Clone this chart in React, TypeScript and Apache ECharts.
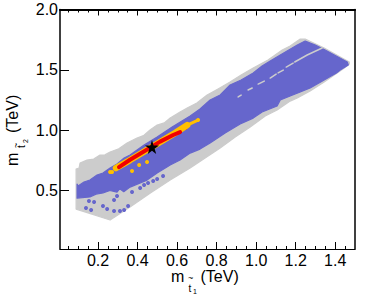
import React, { useEffect, useRef } from "react";
import * as echarts from "echarts";

const majorXTicks = [0.2, 0.4, 0.6, 0.8, 1.0, 1.2, 1.4];
const minorXTicks = [0.05, 0.1, 0.15, 0.25, 0.3, 0.35, 0.45, 0.5, 0.55, 0.65, 0.7, 0.75, 0.85, 0.9, 0.95, 1.05, 1.1, 1.15, 1.25, 1.3, 1.35, 1.45];
const majorYTicks = [0.5, 1.0, 1.5, 2.0];

const grayRegion = [
  [0.089, 0.678], [0.104, 0.686], [0.109, 0.727], [0.144, 0.752], [0.178, 0.76], [0.21, 0.794], [0.235, 0.795], [0.261, 0.819],
  [0.305, 0.845], [0.347, 0.893], [0.397, 0.935], [0.43, 0.955], [0.463, 1.001], [0.499, 1.042], [0.535, 1.06], [0.565, 1.1],
  [0.615, 1.15], [0.651, 1.183], [0.7, 1.225], [0.752, 1.291], [0.807, 1.341], [0.868, 1.399], [0.924, 1.457], [0.985, 1.515],
  [1.06, 1.581], [1.132, 1.664], [1.172, 1.697], [1.223, 1.755], [1.248, 1.755], [1.344, 1.681], [1.471, 1.565],
  [1.471, 1.548], [1.446, 1.515], [1.344, 1.399], [1.273, 1.324], [1.208, 1.266], [1.172, 1.241], [1.106, 1.167],
  [1.046, 1.117], [0.97, 1.026], [0.894, 0.943], [0.818, 0.852], [0.742, 0.769], [0.666, 0.686], [0.565, 0.586],
  [0.463, 0.478], [0.362, 0.363], [0.261, 0.255], [0.089, 0.346],
];
const blueRegion = [
  [0.094, 0.553], [0.099, 0.537], [0.129, 0.57], [0.159, 0.587], [0.195, 0.628], [0.225, 0.645], [0.261, 0.686],
  [0.296, 0.719], [0.332, 0.769], [0.362, 0.794], [0.433, 0.877], [0.499, 0.943], [0.575, 1.026], [0.666, 1.117],
  [0.716, 1.175], [0.767, 1.25], [0.818, 1.291], [0.868, 1.374], [0.924, 1.416], [0.985, 1.474], [1.03, 1.532],
  [1.071, 1.573], [1.122, 1.623], [1.208, 1.706], [1.248, 1.739], [1.299, 1.706], [1.349, 1.664], [1.461, 1.565],
  [1.466, 1.54], [1.425, 1.498], [1.406, 1.474], [1.344, 1.416], [1.273, 1.35], [1.223, 1.316], [1.172, 1.283],
  [1.122, 1.25], [1.106, 1.2], [1.03, 1.15], [0.985, 1.1], [0.919, 1.051], [0.843, 0.976], [0.767, 0.893],
  [0.716, 0.843], [0.666, 0.81], [0.615, 0.752], [0.565, 0.711], [0.499, 0.645], [0.448, 0.586], [0.362, 0.528],
  [0.33, 0.49], [0.31, 0.515], [0.296, 0.487], [0.26, 0.5], [0.225, 0.479], [0.19, 0.47], [0.159, 0.446], [0.094, 0.437],
];
const graySlit = [
  [0.909, 1.275], [0.924, 1.291], [null, null], [0.959, 1.333], [0.98, 1.349], [null, null], [1.01, 1.382], [1.041, 1.407],
  [null, null], [1.071, 1.432], [1.101, 1.465], [null, null], [1.111, 1.474], [1.137, 1.498], [null, null],
  [1.152, 1.523], [1.187, 1.556], [null, null], [1.195, 1.565], [1.258, 1.623], [1.334, 1.681],
];
const yellowBand = [[0.291, 0.686], [0.362, 0.752], [0.438, 0.827], [0.514, 0.902], [0.59, 0.976], [0.651, 1.042]];
const yellowTail = [[0.651, 1.042], [0.706, 1.084]];
const redBand = [[0.306, 0.694], [0.362, 0.755], [0.438, 0.83], [0.514, 0.905], [0.58, 0.96], [0.615, 0.984]];
const redDots = [[0.641, 1.018]];
const yellowDots = [[0.261, 0.653], [0.271, 0.653], [0.372, 0.661], [0.408, 0.711], [0.448, 0.736], [0.706, 1.084]];
const blueDots = [
  [0.139, 0.354], [0.165, 0.338], [0.154, 0.412], [0.18, 0.404], [0.225, 0.371], [0.246, 0.346], [0.281, 0.33],
  [0.311, 0.33], [0.332, 0.338], [0.352, 0.371], [0.281, 0.421], [0.296, 0.454], [0.372, 0.487], [0.413, 0.52],
  [0.433, 0.545], [0.453, 0.562], [0.479, 0.578], [0.499, 0.595], [0.529, 0.62],
];
const bestFit = [[0.473, 0.86]];

const GRAY = "#cccccc";
const BLUE = "#6666cc";
const YELLOW = "#ffbf00";
const RED = "#f20000";
const FONT = "Liberation Sans";
const STAR = "path://M50,0 L61,35 L98,35 L68,57 L79,91 L50,70 L21,91 L32,57 L2,35 L39,35Z";

const region = (pts: number[][], color: string) => ({
  type: "custom",
  silent: true,
  data: [pts[0]],
  renderItem: (_: any, api: any) => ({
    type: "polygon",
    shape: { points: pts.map((p) => api.coord(p)) },
    style: { fill: color, stroke: color, lineWidth: 1.2, lineJoin: "round" },
  }),
});

const band = (pts: any[], color: string, width: number) => ({
  type: "line",
  data: pts,
  symbol: "none",
  connectNulls: false,
  lineStyle: { color, width, cap: "round", join: "round" },
});

const dots = (pts: number[][], color: string, size: number) => ({
  type: "scatter",
  data: pts,
  symbolSize: size,
  itemStyle: { color, opacity: 1 },
});

const xAxisBase = { type: "value", min: 0.0076, max: 1.5, splitLine: { show: false } };
const yAxisBase = { type: "value", min: 0.015, max: 2.0, splitLine: { show: false } };

const label = (text: string, x: number, y: number, size: number, rotation = 0) => ({
  type: "text",
  x,
  y,
  rotation,
  style: { text, fontSize: size, fontFamily: FONT, fill: "#000", textAlign: "left", textVerticalAlign: "bottom" },
});

export default function App() {
  const ref = useRef<HTMLDivElement>(null);
  useEffect(() => {
    const chart = echarts.init(ref.current!, undefined, { renderer: "svg" });
    const R = Math.PI / 2;
    chart.setOption({
      animation: false,
      backgroundColor: "#fff",
      grid: { left: 60, right: 19, top: 9.5, bottom: 49 },
      xAxis: [
        {
          ...xAxisBase,
          position: "bottom",
          axisLine: { show: true, lineStyle: { color: "#000", width: 1.2 } },
          axisTick: { show: true, inside: true, length: 7, customValues: majorXTicks, lineStyle: { color: "#000", width: 1 } },
          axisLabel: {
            show: true,
            customValues: majorXTicks,
            formatter: (v: number) => v.toFixed(1),
            color: "#000",
            fontSize: 16,
            fontFamily: FONT,
            margin: 3,
          },
        },
        {
          ...xAxisBase,
          position: "bottom",
          axisLine: { show: false },
          axisLabel: { show: false },
          axisTick: { show: true, inside: true, length: 3, customValues: minorXTicks, lineStyle: { color: "#000", width: 1 } },
        },
        {
          ...xAxisBase,
          position: "top",
          axisLine: { show: true, lineStyle: { color: "#000", width: 2 } },
          axisLabel: { show: false },
          axisTick: { show: true, inside: true, length: 6, customValues: majorXTicks, lineStyle: { color: "#000", width: 1 } },
        },
        {
          ...xAxisBase,
          position: "top",
          axisLine: { show: false },
          axisLabel: { show: false },
          axisTick: { show: true, inside: true, length: 3, customValues: minorXTicks, lineStyle: { color: "#000", width: 1 } },
        },
      ],
      yAxis: [
        {
          ...yAxisBase,
          position: "left",
          axisLine: { show: true, lineStyle: { color: "#000", width: 1.5 } },
          axisTick: { show: true, inside: true, length: 9, customValues: majorYTicks, lineStyle: { color: "#000", width: 1 } },
          axisLabel: {
            show: true,
            customValues: majorYTicks,
            formatter: (v: number) => v.toFixed(1),
            color: "#000",
            fontSize: 16,
            fontFamily: FONT,
            margin: 2,
          },
        },
        {
          ...yAxisBase,
          position: "right",
          axisLine: { show: true, lineStyle: { color: "#000", width: 1.5 } },
          axisLabel: { show: false },
          axisTick: { show: false },
        },
      ],
      series: [
        region(grayRegion, GRAY),
        region(blueRegion, BLUE),
        band(graySlit, GRAY, 1.5),
        dots(blueDots, BLUE, 4),
        band(yellowBand, YELLOW, 6.5),
        band(yellowTail, YELLOW, 3),
        dots(yellowDots, YELLOW, 4),
        band(redBand, RED, 4),
        dots(redDots, RED, 4),
        { type: "scatter", z: 10, data: bestFit, symbol: STAR, symbolSize: 14, itemStyle: { color: "#000", opacity: 1 } },
      ],
      graphic: [
        label("m", 171, 284, 16),
        label("~", 188, 282, 9),
        label("t", 188.5, 293.5, 10),
        label("1", 193, 295, 7),
        label("(TeV)", 200.5, 284, 16),
        label("m", 20.5, 166, 16, R),
        label("~", 20, 148, 9, R),
        label("t", 26, 148, 10, R),
        label("2", 28.5, 143, 7, R),
        label("(TeV)", 20.5, 133, 16, R),
      ],
    });
    return () => chart.dispose();
  }, []);
  return <div ref={ref} style={{ position: "absolute", left: 0, top: 0, width: 374, height: 298 }} />;
}
